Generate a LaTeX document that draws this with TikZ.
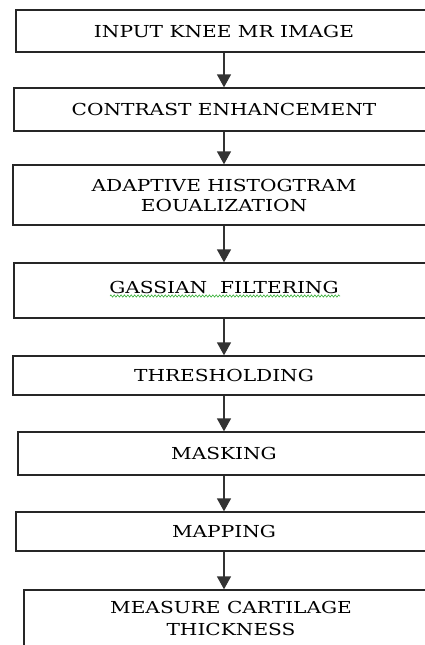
\documentclass[tikz,border=0pt]{standalone}
\usepackage{fontspec}
\setmainfont{DejaVu Serif}[FakeStretch=1.22]
\usetikzlibrary{arrows.meta,decorations.pathmorphing}
\begin{document}
\begin{tikzpicture}[x=1pt,y=1pt,
  stepbox/.style={draw=black!85, line width=1.4pt, align=center, inner sep=0pt,
    font=\fontsize{16.5}{19}\selectfont},
  arr/.style={draw=black!80, line width=1.6pt, -{Triangle[length=13pt,width=14pt]}},
  squiggle/.style={draw=green!60!black!80, line width=0.6pt,
    decorate, decoration={zigzag, amplitude=1.1pt, segment length=3.4pt}}]
\useasboundingbox (0,0) rectangle (425,-645);
\clip (0,0) rectangle (425,-645);
\node[stepbox, minimum width=416, minimum height=42] (b1) at (224,-31) {INPUT KNEE MR IMAGE};
\node[stepbox, minimum width=420, minimum height=43] (b2) at (224,-109.5) {CONTRAST ENHANCEMENT};
\node[stepbox, minimum width=422, minimum height=60] (b3) at (224,-195) {ADAPTIVE HISTOGTRAM\\[1pt]EOUALIZATION};
\node[stepbox, minimum width=420, minimum height=55, text depth=7pt] (b4) at (224,-290.5) {GASSIAN\ \ FILTERING};
\node[stepbox, minimum width=422, minimum height=39] (b5) at (224,-375.5) {THRESHOLDING};
\node[stepbox, minimum width=412, minimum height=43] (b6) at (224,-453.5) {MASKING};
\node[stepbox, minimum width=416, minimum height=39] (b7) at (224,-531.5) {MAPPING};
\node[stepbox, minimum width=414, minimum height=80, text depth=24pt] (b8) at (231,-630) {MEASURE CARTILAGE\\[3pt]THICKNESS};
\draw[arr] (b1) -- (b2);
\draw[arr] (b2) -- (b3);
\draw[arr] (b3) -- (b4);
\draw[arr] (b4) -- (b5);
\draw[arr] (b5) -- (b6);
\draw[arr] (b6) -- (b7);
\draw[arr] (b7.south) -- (b7.south |- b8.north);
\coordinate (u1) at (110,-296);
\coordinate (u2) at (340,-296);
\draw[squiggle] (u1) -- (u2);
\end{tikzpicture}
\end{document}
